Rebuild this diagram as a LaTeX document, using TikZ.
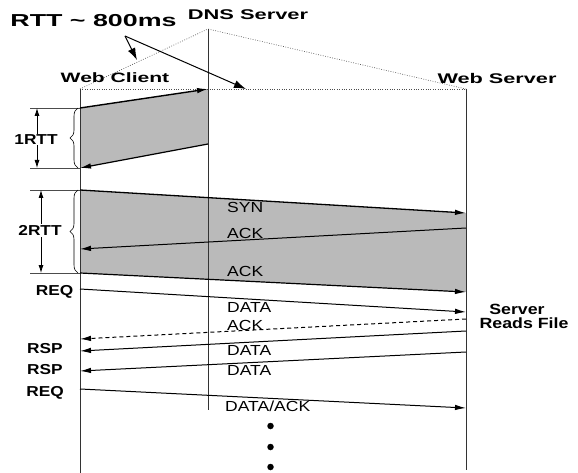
\documentclass[tikz,border=0pt]{standalone}
\usepackage{fontspec}
\newfontfamily\fA{Liberation Sans}[FakeStretch=1.55]
\newfontfamily\fB{Liberation Sans}[FakeStretch=1.2]
\usetikzlibrary{arrows.meta,decorations.pathreplacing}
\tikzset{
  shadefill/.style={fill=black!27},
  life/.style={line width=1pt, draw=black!80},
  dotln/.style={line width=0.6pt, draw=black!70, dash pattern=on 0.8pt off 1.6pt},
  msg/.style={line width=1pt, -{Latex[length=11pt,width=5.5pt]}},
  ptr/.style={line width=1pt, -{Latex[length=12pt,width=8pt]}},
  dbl/.style={line width=0.8pt, {Latex[length=8pt,width=5pt]}-{Latex[length=8pt,width=5pt]}},
  tick/.style={line width=0.6pt, draw=black!70},
  bracelook/.style={line width=0.6pt, decorate, decoration={brace, amplitude=8pt}},
  ttl/.style={inner sep=0pt, anchor=base},
  lbl/.style={inner sep=0pt, anchor=base, font=\fB\bfseries\fontsize{14.4}{15}\selectfont},
  mlbl/.style={inner sep=0pt, anchor=base west, font=\fB\fontsize{14.6}{15}\selectfont},
  dotmark/.style={circle, fill=black, inner sep=0pt, minimum size=6.5pt}
}
\begin{document}
\begin{tikzpicture}[x=1pt,y=-1pt]
\useasboundingbox (0,0) rectangle (578,473);
% lifeline coordinates
\coordinate (wcTop) at (80,89);
\coordinate (wcBot) at (80,473);
\coordinate (dnsTop) at (208,29);
\coordinate (dnsMid) at (208,89);
\coordinate (dnsBot) at (208,410);
\coordinate (wsTop) at (466,89);
\coordinate (wsBot) at (466,470);
% 1RTT
\coordinate (a1) at (80,108);
\coordinate (a3) at (208,144);
\coordinate (a4) at (80,168);
% 2RTT
\coordinate (b1) at (80,190);
\coordinate (b2) at (466,213);
\coordinate (b3) at (466,228);
\coordinate (b4) at (80,249);
\coordinate (b5) at (80,273);
\coordinate (b6) at (466,292);
% later messages
\coordinate (m1) at (80,289);
\coordinate (m2) at (466,312);
\coordinate (m3) at (466,319);
\coordinate (m4) at (80,339);
\coordinate (m5) at (466,331);
\coordinate (m6) at (80,351);
\coordinate (m7) at (466,352);
\coordinate (m8) at (80,371);
\coordinate (m9) at (80,389);
\coordinate (m10) at (466,408);
% bracket points
\coordinate (k1) at (30,108);
\coordinate (k2) at (30,168);
\coordinate (k3) at (30,190);
\coordinate (k4) at (30,273);
\coordinate (v1t) at (37,108);
\coordinate (v1b) at (37,168);
\coordinate (v2t) at (41,190);
\coordinate (v2b) at (41,273);
\coordinate (r1t) at (78,108);
\coordinate (r1b) at (78,168);
\coordinate (r2t) at (78,190);
\coordinate (r2b) at (78,273);
% pointer
\coordinate (psrc) at (125,36);
\coordinate (pt1) at (137,60);
\coordinate (pt2) at (246,89);

% shaded regions
\fill[shadefill] (a1) -- (dnsMid) -- (a3) -- (a4) -- cycle;
\fill[shadefill] (b1) -- (b2) -- (b6) -- (b5) -- cycle;

% dotted triangle
\draw[dotln] (wcTop) -- (dnsTop) -- (wsTop);
\draw[dotln] (wcTop) -- (wsTop);

% lifelines
\draw[life] (wcTop) -- (wcBot);
\draw[life] (dnsTop) -- (dnsBot);
\draw[life] (wsTop) -- (wsBot);

% messages
\draw[msg, line width=1.4pt] (a1) -- (dnsMid);
\draw[msg, line width=1.2pt] (a3) -- (a4);
\draw[msg, line width=1.3pt] (b1) -- (b2);
\draw[msg] (b3) -- (b4);
\draw[msg, line width=1.2pt] (b5) -- (b6);
\draw[msg] (m1) -- (m2);
\draw[msg, dashed, dash pattern=on 4pt off 3pt] (m3) -- (m4);
\draw[msg] (m5) -- (m6);
\draw[msg] (m7) -- (m8);
\draw[msg] (m9) -- (m10);

% brackets
\draw[tick] (k1) -- (a1);
\draw[tick] (k2) -- (a4);
\draw[tick] (k3) -- (b1);
\draw[tick] (k4) -- (b5);
\draw[dbl] (v1t) -- (v1b);
\draw[dbl] (v2t) -- (v2b);
\draw[bracelook] (r1b) -- (r1t);
\draw[bracelook] (r2b) -- (r2t);

% pointer arrows
\draw[ptr] (psrc) -- (pt1);
\draw[ptr] (psrc) -- (pt2);

% titles
\node[ttl, font=\fA\bfseries\fontsize{17.3}{20}\selectfont] (rtt) at (93.5,27) {RTT \textasciitilde{} 800ms};
\node[ttl, font=\fA\bfseries\fontsize{14.1}{16}\selectfont] (dns) at (248,20) {DNS Server};
\node[ttl, font=\fA\bfseries\fontsize{13.6}{16}\selectfont] (wc) at (115,83) {Web Client};
\node[ttl, font=\fA\bfseries\fontsize{14}{16}\selectfont] (ws) at (497,84) {Web Server};

% side labels
\node[lbl, fill=white, inner sep=1pt] (r1) at (36,144.5) {1RTT};
\node[lbl, fill=white, inner sep=1pt] (r2) at (40,235.5) {2RTT};
\node[lbl] (req1) at (54.7,295) {REQ};
\node[lbl] (rsp1) at (45,353.5) {RSP};
\node[lbl] (rsp2) at (45,374.5) {RSP};
\node[lbl] (req2) at (45,396) {REQ};
\node[lbl, font=\fB\bfseries\fontsize{14.8}{15}\selectfont] (srv) at (517,314) {Server};
\node[lbl, font=\fB\bfseries\fontsize{14.8}{15}\selectfont] (rf) at (524,328.5) {Reads File};

% message labels
\node[mlbl] (syn) at (227,213) {SYN};
\node[mlbl] (ack1) at (227,238) {ACK};
\node[mlbl] (ack2) at (227,276) {ACK};
\node[mlbl] (d1) at (227,312) {DATA};
\node[mlbl] (ack3) at (227,330) {ACK};
\node[mlbl] (d2) at (227,355) {DATA};
\node[mlbl] (d3) at (227,375) {DATA};
\node[mlbl] (da) at (225,411.5) {DATA/ACK};

% continuation dots
\node[dotmark] (dot1) at (270.5,426) {};
\node[dotmark] (dot2) at (270.5,447) {};
\node[dotmark] (dot3) at (270.5,467) {};
\end{tikzpicture}
\end{document}
